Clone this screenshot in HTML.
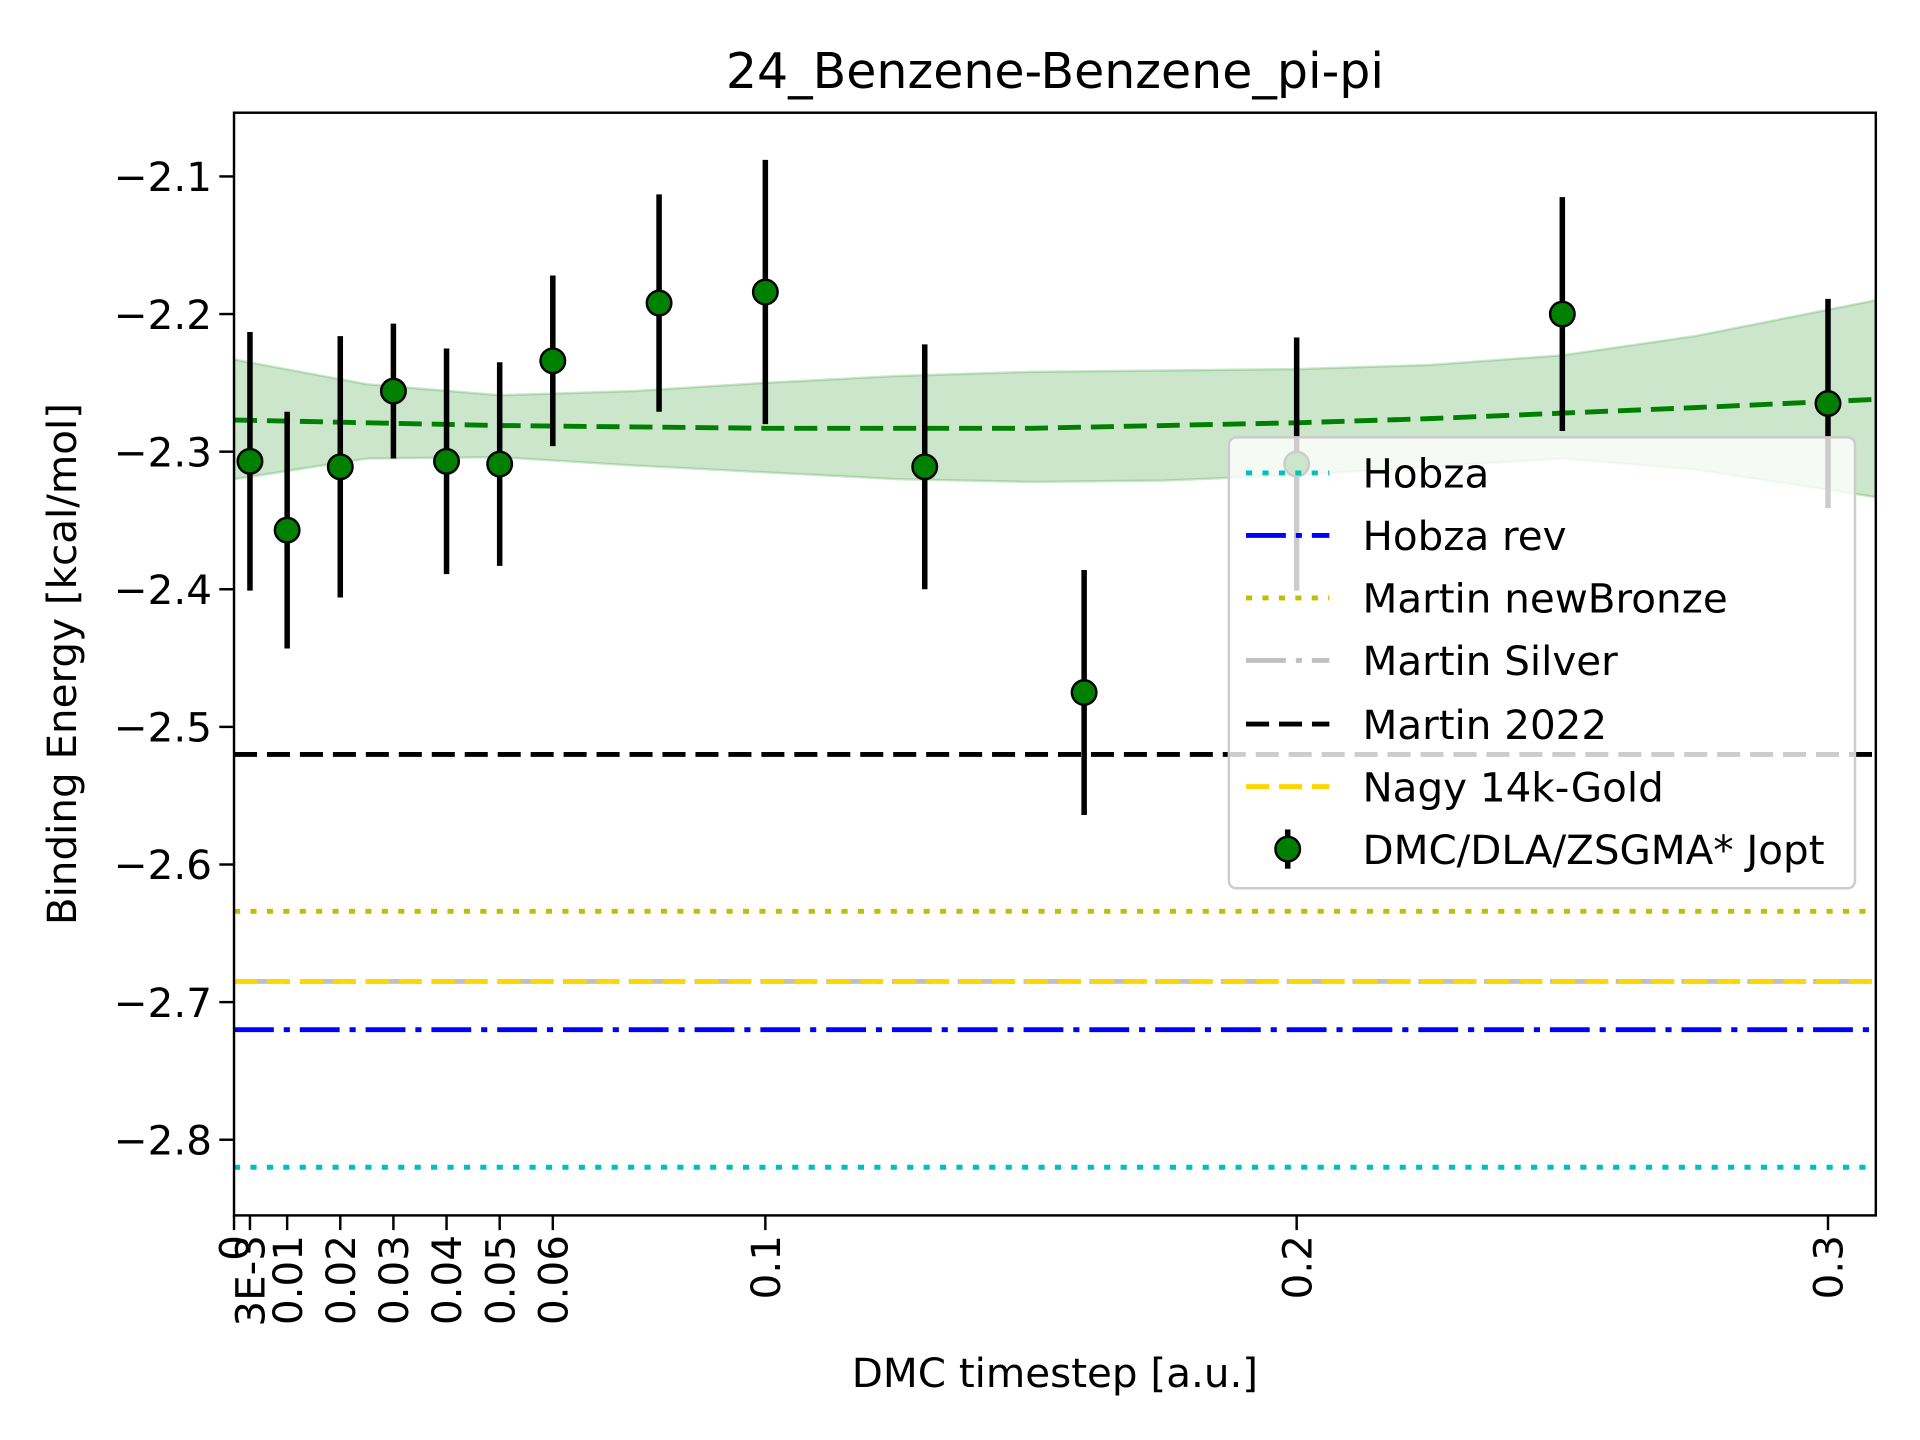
<!DOCTYPE html>
<html><head><meta charset="utf-8"><style>
html,body{margin:0;padding:0;background:#fff;}
svg{display:block;font-family:"DejaVu Sans","Liberation Sans",sans-serif;}
</style></head><body>
<svg id="chart" width="1920" height="1440" viewBox="0 0 1567 1175.3" preserveAspectRatio="xMinYMin meet" xmlns="http://www.w3.org/2000/svg">
<rect width="1567" height="1176" fill="#fff"/>
<text x="861" y="72" font-size="40" text-anchor="middle">24_Benzene-Benzene_pi-pi</text>
<g id="plot"></g>
<text x="861" y="1132" font-size="33" text-anchor="middle">DMC timestep [a.u.]</text>
<text transform="translate(62,542) rotate(-90)" font-size="33" text-anchor="middle">Binding Energy [kcal/mol]</text>
</svg>
<script>
const pointX = [0.003,0.01,0.02,0.03,0.04,0.05,0.06,0.08,0.1,0.13,0.16,0.2,0.25,0.3];
const pointY = [-2.307,-2.357,-2.311,-2.256,-2.307,-2.309,-2.234,-2.192,-2.184,-2.311,-2.475,-2.309,-2.200,-2.265];
const pointErr = [0.094,0.086,0.095,0.049,0.082,0.074,0.062,0.079,0.096,0.089,0.089,0.092,0.085,0.076];
const fitX = [0,0.025,0.05,0.075,0.1,0.125,0.15,0.175,0.2,0.225,0.25,0.275,0.309];
const fitY = [-2.277,-2.279,-2.281,-2.282,-2.283,-2.283,-2.283,-2.281,-2.279,-2.276,-2.272,-2.268,-2.262];
const bandUpper = [-2.233,-2.251,-2.259,-2.256,-2.250,-2.245,-2.242,-2.241,-2.240,-2.237,-2.230,-2.216,-2.190];
const bandLower = [-2.320,-2.305,-2.304,-2.310,-2.315,-2.320,-2.322,-2.321,-2.317,-2.311,-2.305,-2.313,-2.333];
const refNames = ["Hobza","Hobza rev","Martin newBronze","Martin Silver","Martin 2022","Nagy 14k-Gold"];
const refValues = [-2.82,-2.72,-2.634,-2.685,-2.52,-2.685];
const refColors = ["#00bfbf","#0000ff","#bfbf00","#c0c0c0","#000000","#ffd700"];
const refDash = ["5,8.4","32.5,8.1,5,8.1","5,8.4","32.5,8.1,5,8.1","18.8,8.1","18.8,8.1"];
const xTickVals = [0,0.003,0.01,0.02,0.03,0.04,0.05,0.06,0.1,0.2,0.3];
const xTickLabels = ["0","3E-3","0.01","0.02","0.03","0.04","0.05","0.06","0.1","0.2","0.3"];
const yTickVals = [-2.1,-2.2,-2.3,-2.4,-2.5,-2.6,-2.7,-2.8];
const yTickLabels = ["\u22122.1","\u22122.2","\u22122.3","\u22122.4","\u22122.5","\u22122.6","\u22122.7","\u22122.8"];

const L=191,R=1531,T=92,B=992;
const X0=0,X1=0.309,Y0=-2.855,Y1=-2.0537;
const sx=v=>L+(v-X0)/(X1-X0)*(R-L);
const sy=v=>B-(v-Y0)/(Y1-Y0)*(B-T);
const NS="http://www.w3.org/2000/svg";
const svg=document.getElementById('chart');
const plot=document.getElementById('plot');
function mk(tag,attrs,parent){const e=document.createElementNS(NS,tag);for(const k in attrs)e.setAttribute(k,attrs[k]);(parent||plot).appendChild(e);return e;}

const defs=mk('defs',{},svg);
const cp=mk('clipPath',{id:'clip'},defs);
mk('rect',{x:L,y:T,width:R-L,height:B-T},cp);
const g=mk('g',{'clip-path':'url(#clip)'});



let d='M'+fitX.map((x,i)=>sx(x)+','+sy(bandUpper[i])).join(' L');
for(let i=fitX.length-1;i>=0;i--) d+=' L'+sx(fitX[i])+','+sy(bandLower[i]);
const band=mk('path',{d:d+'Z',fill:'#008000','fill-opacity':0.2,stroke:'#008000','stroke-opacity':0.2,'stroke-width':2},g);



refValues.forEach((v,i)=>{
  const ln=mk('line',{x1:L,x2:R,y1:sy(v),y2:sy(v),stroke:refColors[i],'stroke-width':4,'stroke-dasharray':refDash[i]},g);
  
  
});

const fit=mk('polyline',{points:fitX.map((x,i)=>sx(x)+','+sy(fitY[i])).join(' '),fill:'none',stroke:'#008000','stroke-width':4,'stroke-dasharray':'18.8,8.1'},g);



pointX.forEach((x,i)=>{
  const eb=mk('line',{x1:sx(x),x2:sx(x),y1:sy(pointY[i]-pointErr[i]),y2:sy(pointY[i]+pointErr[i]),stroke:'#000','stroke-width':4.5},g);
  
  
  const c=mk('circle',{cx:sx(x),cy:sy(pointY[i]),r:10,fill:'#008000',stroke:'#000','stroke-width':2},g);
  
  
});

const frame=mk('rect',{x:L,y:T,width:R-L,height:B-T,fill:'none',stroke:'#000','stroke-width':2});



xTickVals.forEach((v,i)=>{
  const t=mk('line',{x1:sx(v),x2:sx(v),y1:B,y2:B+12,stroke:'#000','stroke-width':2});
  
  
  const tx=mk('text',{transform:`translate(${sx(v)+12},${B+16}) rotate(-90)`,'font-size':33,'text-anchor':'end'});
  tx.textContent=xTickLabels[i];
  
  
});
yTickVals.forEach((v,i)=>{
  const t=mk('line',{x1:L-12,x2:L,y1:sy(v),y2:sy(v),stroke:'#000','stroke-width':2});
  
  
  const tx=mk('text',{x:L-18,y:sy(v)+12,'font-size':33,'text-anchor':'end'});
  tx.textContent=yTickLabels[i];
  
  
});

const lg=mk('g',{});


const lb=mk('rect',{x:1003,y:357,width:511,height:368,rx:6,fill:'#fff','fill-opacity':0.8,stroke:'#cccccc','stroke-width':2},lg);


const rowY=[386,437,488,539,591,642,693];
refNames.forEach((n,i)=>{
  const s=mk('line',{x1:1017,x2:1085,y1:rowY[i],y2:rowY[i],stroke:refColors[i],'stroke-width':4,'stroke-dasharray':refDash[i]},lg);
  
  
  const t=mk('text',{x:1112,y:rowY[i]+12,'font-size':33},lg);
  t.textContent=n;
  
  
});
const le=mk('line',{x1:1051,x2:1051,y1:rowY[6]-16,y2:rowY[6]+16,stroke:'#000','stroke-width':4.5},lg);


const lc=mk('circle',{cx:1051,cy:rowY[6],r:10,fill:'#008000',stroke:'#000','stroke-width':2},lg);


const lt=mk('text',{x:1112,y:rowY[6]+12,'font-size':33},lg);
lt.textContent='DMC/DLA/ZSGMA* Jopt';


</script>
</body></html>
